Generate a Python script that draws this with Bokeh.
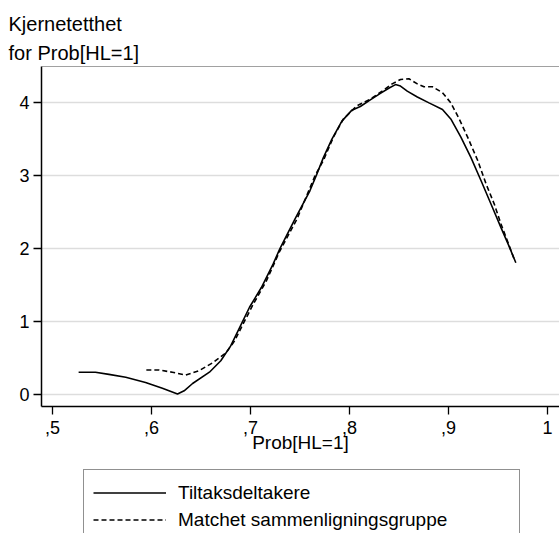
from bokeh.plotting import figure
from bokeh.layouts import column
from bokeh.models import (Range1d, FixedTicker, Legend, LegendItem, Title, Span,
                          CustomJSTickFormatter)
from bokeh.embed import file_html
from bokeh.resources import INLINE

# Kernel density of Prob[HL=1], participants
x_deltakere = [0.5264, 0.5434, 0.557, 0.574, 0.594, 0.611, 0.6263, 0.633, 0.6415, 0.6585,
               0.670, 0.680, 0.689, 0.699, 0.711, 0.7228, 0.7296, 0.745, 0.760, 0.7669,
               0.7736, 0.7821, 0.7923, 0.8024, 0.8109, 0.821, 0.8312, 0.8396, 0.8464, 0.8515,
               0.8583, 0.8685, 0.8803, 0.8939, 0.9023, 0.9125, 0.9227, 0.933, 0.943, 0.953,
               0.961, 0.968]
y_deltakere = [0.30, 0.30, 0.27, 0.23, 0.16, 0.08, 0.00, 0.045, 0.145, 0.30,
               0.456, 0.66, 0.91, 1.19, 1.46, 1.78, 1.99, 2.40, 2.785, 3.01,
               3.24, 3.49, 3.74, 3.89, 3.94, 4.03, 4.12, 4.19, 4.24, 4.22,
               4.15, 4.07, 3.99, 3.90, 3.77, 3.52, 3.24, 2.92, 2.60, 2.28,
               2.03, 1.80]

# Kernel density of Prob[HL=1], matched comparison group
x_matchet = [0.5948, 0.6077, 0.621, 0.6347, 0.648, 0.662, 0.6755, 0.684, 0.6925, 0.7027,
             0.716, 0.7296, 0.747, 0.7651, 0.7736, 0.7837, 0.7939, 0.8075, 0.821, 0.8329,
             0.8431, 0.8515, 0.86, 0.8685, 0.8752, 0.8837, 0.8939, 0.9023, 0.9108, 0.9193,
             0.9295, 0.9379, 0.9463, 0.953, 0.960, 0.966]
y_matchet = [0.33, 0.33, 0.30, 0.26, 0.32, 0.43, 0.57, 0.73, 0.96, 1.23,
             1.55, 1.96, 2.40, 2.99, 3.20, 3.52, 3.77, 3.95, 4.04, 4.15,
             4.25, 4.31, 4.32, 4.25, 4.21, 4.21, 4.13, 3.99, 3.77, 3.52,
             3.20, 2.88, 2.60, 2.33, 2.08, 1.86]

x_ticks = [0.5, 0.6, 0.7, 0.8, 0.9, 1.0]
x_tick_labels = [",5", ",6", ",7", ",8", ",9", "1"]
y_ticks = [0, 1, 2, 3, 4]

series_labels = ["Tiltaksdeltakere", "Matchet sammenligningsgruppe"]
ytitle_lines = ["Kjernetetthet", "for Prob[HL=1]"]
xtitle = "Prob[HL=1]"

FONT = "Liberation Sans"
LINE_W = 1.6
DASH = "5 3"

p = figure(width=559, height=465, output_backend="svg", toolbar_location=None,
           x_range=Range1d(0.4889, 1.0121), y_range=Range1d(-0.17, 4.488),
           min_border_left=41, min_border_right=0, min_border_top=66,
           min_border_bottom=59)
p.background_fill_color = "white"
p.border_fill_color = "white"
p.outline_line_color = None

# axes
for ax in (p.xaxis[0], p.yaxis[0]):
    ax.axis_line_color = "black"
    ax.axis_line_width = 1.5
    ax.major_tick_line_color = "black"
    ax.major_tick_line_width = 1.3
    ax.major_tick_out = 8
    ax.major_tick_in = 0
    ax.minor_tick_line_color = None
    ax.major_label_text_font = FONT
    ax.major_label_text_font_size = "18px"
    ax.major_label_text_color = "black"

p.xaxis.ticker = FixedTicker(ticks=x_ticks)
p.xaxis.formatter = CustomJSTickFormatter(
    args=dict(vals=x_ticks, labs=x_tick_labels),
    code="const i = vals.findIndex(v => Math.abs(v - tick) < 1e-9); return i >= 0 ? labs[i] : '';")
p.xaxis.major_label_standoff = 6
p.xaxis.axis_label = xtitle
p.xaxis.axis_label_text_font = FONT
p.xaxis.axis_label_text_font_size = "19px"
p.xaxis.axis_label_text_font_style = "normal"
p.xaxis.axis_label_text_color = "black"
p.xaxis.axis_label_standoff = -5

p.yaxis.ticker = FixedTicker(ticks=y_ticks)
p.yaxis.major_label_standoff = 4
p.yaxis.major_label_orientation = "horizontal"

# grid
p.xgrid.grid_line_color = None
p.ygrid.ticker = FixedTicker(ticks=y_ticks)
p.ygrid.grid_line_color = "#dddddd"
p.ygrid.grid_line_width = 1.3

# top border of the plot region
p.add_layout(Span(location=4.488, dimension="width", line_color="#444444", line_width=1.2))

# curves
p.line(x_deltakere, y_deltakere, line_color="black", line_width=LINE_W)
p.line(x_matchet, y_matchet, line_color="black", line_width=LINE_W, line_dash=DASH)

# vertical-axis title, written horizontally above the plot region
p.add_layout(Title(text=ytitle_lines[1], align="left", offset=-33, text_font=FONT,
                   text_font_size="20px", text_font_style="normal",
                   text_color="black", standoff=5), "above")
p.add_layout(Title(text=ytitle_lines[0], align="left", offset=-33, text_font=FONT,
                   text_font_size="20px", text_font_style="normal",
                   text_color="black", standoff=6), "above")

# legend strip below the chart (its frame lines up with the chart's frame)
leg = figure(width=559, height=68, output_backend="svg", toolbar_location=None,
             x_axis_type=None, y_axis_type=None,
             min_border_left=0, min_border_right=0, min_border_top=0, min_border_bottom=0)
leg.outline_line_color = None
leg.xgrid.visible = False
leg.ygrid.visible = False
# one-point line renderers: nothing is drawn in the strip, they only carry the legend style
k1 = leg.line(x=x_deltakere[:1], y=y_deltakere[:1], line_color="black", line_width=LINE_W)
k2 = leg.line(x=x_matchet[:1], y=y_matchet[:1], line_color="black", line_width=LINE_W,
              line_dash=DASH)
legend = Legend(items=[LegendItem(label=series_labels[0], renderers=[k1]),
                       LegendItem(label=series_labels[1], renderers=[k2])],
                location=(42, -10), orientation="vertical",
                padding=9, spacing=0, margin=0,
                glyph_width=73, glyph_height=27, label_height=27, label_width=332,
                label_standoff=12,
                label_text_font=FONT, label_text_font_size="19px", label_text_color="black",
                border_line_color="#222222", border_line_width=1,
                background_fill_color="white", background_fill_alpha=1)
leg.add_layout(legend, "center")

open("out.html", "w").write(file_html(column(p, leg, spacing=0), INLINE))
